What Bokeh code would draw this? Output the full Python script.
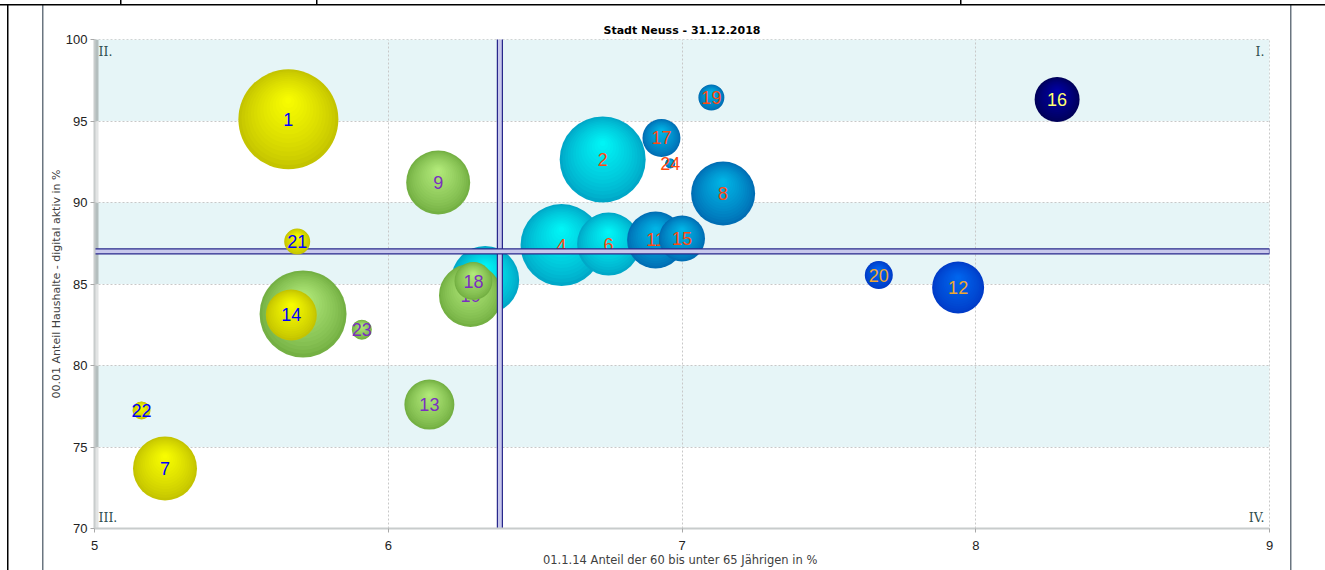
import numpy as np
from bokeh.plotting import figure
from bokeh.models import Range1d, BoxAnnotation, FixedTicker
from bokeh.core.properties import value
from bokeh.embed import file_html
from bokeh.resources import INLINE

# ---------------- data ----------------
TITLE = "Stadt Neuss - 31.12.2018"
X_LABEL = "01.1.14 Anteil der 60 bis unter 65 Jährigen  in %"
Y_LABEL = "00.01 Anteil Haushalte - digital aktiv in %"

district = ["1", "2", "3", "4", "5", "6", "7", "8", "9", "10", "11", "12",
            "13", "14", "15", "16", "17", "18", "19", "20", "21", "22", "23", "24"]
x_share_60_65 = [5.66, 6.73, 6.33, 6.59, 5.71, 6.75, 5.24, 7.14, 6.17, 6.28, 6.91, 7.94,
                 6.14, 5.67, 7.00, 8.277, 6.93, 6.29, 7.10, 7.67, 5.69, 5.16, 5.91, 6.96]
y_digital = [95.1, 92.64, 85.25, 87.39, 83.16, 87.45, 73.68, 90.55, 91.23, 84.3, 87.7, 84.79,
             77.6, 83.1, 87.79, 96.32, 93.96, 85.18, 96.44, 85.55, 87.6, 77.24, 82.2, 92.39]
bubble_value = [50, 43, 34, 41, 43.5, 31.5, 32, 32, 32, 31.5, 28.5, 26,
                25, 25.5, 23, 22.5, 19, 19, 13, 14, 13, 9, 10, 5]
cluster = ["gelb", "cyan", "cyan", "cyan", "gruen", "cyan", "gelb", "mittelblau", "gruen",
           "gruen", "mittelblau", "blau", "gruen", "gelb", "mittelblau", "navy", "mittelblau",
           "gruen", "mittelblau", "blau", "gelb", "gelb", "gruen", "mittelblau"]

mean_x = 6.38
mean_y = 87.0

x_ticks = [5, 6, 7, 8, 9]
y_ticks = [70, 75, 80, 85, 90, 95, 100]
band_ranges = [(75, 80), (85, 90), (95, 100)]
quadrants = ["I.", "II.", "III.", "IV."]

# ---------------- styles ----------------
STYLE = {
    "cyan":       ("#00A8C8", "#00F8F8", "#FF4A10"),
    "mittelblau": ("#006EB4", "#00B8E8", "#FF4A10"),
    "blau":       ("#003CC8", "#0068F0", "#F0A830"),
    "navy":       ("#00005A", "#0000A8", "#FFFF70"),
    "gruen":      ("#74B043", "#B4EC7C", "#7B2FC0"),
    "gelb":       ("#C4C400", "#FAFF00", "#0000FF"),
}
DRAW_BEFORE_LINES = ["cyan", "mittelblau", "blau", "navy", "gruen"]
DRAW_AFTER_LINES = ["gelb"]

W, H = 1325, 570
B_LEFT, B_RIGHT, B_TOP, B_BOTTOM = 94, 56, 39, 42
X0, X1, Y0, Y1 = 5, 9, 70, 100
frame_w = W - B_LEFT - B_RIGHT
frame_h = H - B_TOP - B_BOTTOM
x_per_px = (X1 - X0) / frame_w
y_per_px = (Y1 - Y0) / frame_h

chrome_css = {
    "background-image": ", ".join(["linear-gradient(#000,#000)"] * 5 +
                                  ["linear-gradient(#6A7580,#6A7580)"] * 2),
    "background-size": "100% 1.5px, 1.5px 100%, 1.5px 5px, 1.5px 5px, 1.5px 5px, "
                       "1.5px 100%, 1.5px 100%",
    "background-position": "0 4px, 7px 4px, 120px 0, 316px 0, 960px 0, 42px 5px, 1290px 5px",
    "background-repeat": "no-repeat",
}

p = figure(width=W, height=H, output_backend="svg", toolbar_location=None,
           x_range=Range1d(X0, X1), y_range=Range1d(Y0, Y1),
           min_border_left=B_LEFT, min_border_right=B_RIGHT,
           min_border_top=B_TOP, min_border_bottom=B_BOTTOM,
           background_fill_color="white", border_fill_color="white",
           border_fill_alpha=0.0, styles=chrome_css)

p.title.text = TITLE
p.title.align = "center"
p.title.text_font = "DejaVu Sans"
p.title.text_font_size = "11px"
p.title.text_font_style = "bold"
p.title.text_color = "#000000"
p.title.standoff = 6

p.outline_line_color = "#C8C8C8"
p.outline_line_dash = "2 2"

for ax, ticks in ((p.xaxis, x_ticks), (p.yaxis, y_ticks)):
    ax.ticker = FixedTicker(ticks=ticks)
    ax.axis_line_color = "#C8CCCC"
    ax.axis_line_width = 2
    ax.major_tick_line_color = "#A8A8A8"
    ax.major_tick_out = 4
    ax.major_tick_in = 0
    ax.minor_tick_line_color = None
    ax.major_label_text_font = "Liberation Sans"
    ax.major_label_text_font_size = "13px"
    ax.major_label_text_color = "#222222"
    ax.axis_label_text_font = "DejaVu Sans"
    ax.axis_label_text_font_style = "normal"
    ax.axis_label_text_color = "#404040"
p.xaxis.axis_label = X_LABEL
p.yaxis.axis_label = Y_LABEL
p.xaxis.axis_label_text_font_size = "11.5px"
p.yaxis.axis_label_text_font_size = "11px"
p.xaxis.major_label_standoff = 8
p.xaxis.axis_label_standoff = 0
p.yaxis.major_label_standoff = 3
p.yaxis.axis_label_standoff = 0

p.grid.grid_line_color = "#C8C8C8"
p.grid.grid_line_dash = "2 2"
p.xgrid.ticker = FixedTicker(ticks=x_ticks)
p.ygrid.ticker = FixedTicker(ticks=y_ticks)

# background bands
for lo, hi in band_ranges:
    p.add_layout(BoxAnnotation(bottom=lo, top=hi, fill_color="#E6F5F7", fill_alpha=1,
                               line_color=None, level="image"))
# 3D left wall strip
for k in range(len(y_ticks) - 1):
    lo, hi = y_ticks[k], y_ticks[k + 1]
    shaded = (lo, hi) in band_ranges
    p.add_layout(BoxAnnotation(left=X0, right=X0 + 4 * x_per_px, bottom=lo, top=hi,
                               fill_color="#B4BEBE" if shaded else "#E2E4E4", fill_alpha=1,
                               line_color=None, level="image"))


def hex2rgb(h):
    return np.array([int(h[i:i + 2], 16) for i in (1, 3, 5)], dtype=float)


N_LAYERS = 16


def draw_group(g):
    edge, high, tcol = STYLE[g]
    e, hcol = hex2rgb(edge), hex2rgb(high)
    for i in range(len(district)):
        if cluster[i] != g:
            continue
        r = bubble_value[i]
        s = np.arange(N_LAYERS) / N_LAYERS
        sizes = 2 * r * (1 - s)
        ys = y_digital[i] + 0.4 * r * s * y_per_px
        f = s ** 0.8
        cols = ["#%02x%02x%02x" % tuple(np.round(e + (hcol - e) * t).astype(int)) for t in f]
        p.scatter(x=[x_share_60_65[i]] * N_LAYERS, y=list(ys), size=list(sizes),
                  fill_color=cols, line_color=None)
        p.text(x=[x_share_60_65[i]], y=[y_digital[i]], text=[district[i]],
               text_font=value("Liberation Sans"), text_font_size="18px",
               text_color=tcol, text_align="center", text_baseline="middle")


for g in DRAW_BEFORE_LINES:
    draw_group(g)

# mean lines
p.rect(x=[mean_x], y=[(Y0 + Y1 + 0.15) / 2], width=5, width_units="screen",
       height=Y1 + 0.15 - Y0, fill_color="#C8C8EC", line_color="#28288C", line_width=1.2)
p.rect(x=[(X0 + X1) / 2], y=[mean_y], width=X1 - X0, height=5, height_units="screen",
       fill_color="#C8C8EC", line_color="#28288C", line_width=1.2)

for g in DRAW_AFTER_LINES:
    draw_group(g)

# quadrant labels
qx = [X1, X0, X0, X1]
qy = [Y1, Y1, Y0, Y0]
qalign = ["right", "left", "left", "right"]
qbase = ["top", "top", "bottom", "bottom"]
qdx = [-5, 4, 4, -5]
qdy = [4, 4, -4, -4]
for k in range(4):
    p.text(x=[qx[k]], y=[qy[k]], text=[quadrants[k]], text_font=value("DejaVu Serif"),
           text_font_size="12.5px", text_color="#2F4F4F", text_align=qalign[k],
           text_baseline=qbase[k], x_offset=qdx[k], y_offset=qdy[k])

open("out.html", "w").write(file_html(p, INLINE))
